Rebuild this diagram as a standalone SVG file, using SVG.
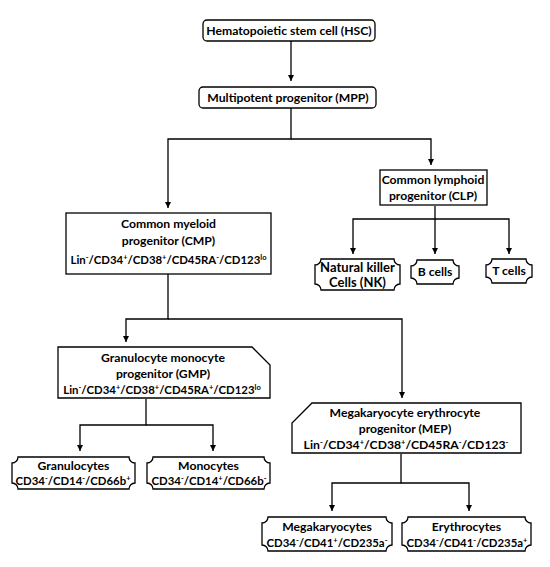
<svg xmlns="http://www.w3.org/2000/svg" width="550" height="567" viewBox="0 0 550 567">
<style>
.box{fill:#fff;stroke:#000;stroke-width:1.3}
.t{font-family:Lato,"Liberation Sans",sans-serif;font-weight:bold;font-size:12.2px;fill:#000;text-anchor:middle}
.m{font-size:11.4px}
.s{font-size:7.5px}
.c{fill:none;stroke:#000;stroke-width:1.3}
</style>
<defs>
<marker id="ah" markerUnits="userSpaceOnUse" markerWidth="7" markerHeight="7" refX="6" refY="3" orient="auto">
<path d="M0,0 L6,3 L0,6 z" fill="#000"/>
</marker>
</defs>
<rect width="550" height="567" fill="#fff"/>
<g id="connectors">
<path class="c" d="M291,41 V81" marker-end="url(#ah)"/>
<path class="c" d="M291,108 V139 H168 V208" marker-end="url(#ah)"/>
<path class="c" d="M291,139 H431 V165" marker-end="url(#ah)"/>
<path class="c" d="M435,206 V219 H353 V254" marker-end="url(#ah)"/>
<path class="c" d="M435,219 V254" marker-end="url(#ah)"/>
<path class="c" d="M435,219 H509 V254" marker-end="url(#ah)"/>
<path class="c" d="M168,274 V319 H126 V342" marker-end="url(#ah)"/>
<path class="c" d="M168,319 H402 V398" marker-end="url(#ah)"/>
<path class="c" d="M146,399 V425 H80 V451" marker-end="url(#ah)"/>
<path class="c" d="M146,425 H213 V451" marker-end="url(#ah)"/>
<path class="c" d="M401,454 V483 H332 V511" marker-end="url(#ah)"/>
<path class="c" d="M401,483 H469 V511" marker-end="url(#ah)"/>
</g>
<g id="hsc">
<rect class="box" x="203" y="20" width="172" height="21" rx="4"/>
<text class="t" x="289" y="35">Hematopoietic stem cell (HSC)</text>
</g>
<g id="mpp">
<rect class="box" x="199" y="87" width="177" height="21" rx="4"/>
<text class="t" x="288" y="102">Multipotent progenitor (MPP)</text>
</g>
<g id="clp">
<rect class="box" x="380" y="170" width="107" height="35"/>
<text class="t" x="433" y="184">Common lymphoid</text>
<text class="t" x="433" y="200">progenitor (CLP)</text>
</g>
<g id="nk">
<path class="box" d="M321,259 H394 A6,6 0 0 0 400,265 V284 A6,6 0 0 0 394,290 H321 A6,6 0 0 0 315,284 V265 A6,6 0 0 0 321,259 Z"/>
<text class="t" x="357.5" y="272" style="font-size:13px">Natural killer</text>
<text class="t" x="357.5" y="287" style="font-size:13px">Cells (NK)</text>
</g>
<g id="bcells">
<path class="box" d="M417,260 H453 A6,6 0 0 0 459,266 V278 A6,6 0 0 0 453,284 H417 A6,6 0 0 0 411,278 V266 A6,6 0 0 0 417,260 Z"/>
<text class="t" x="435" y="276">B cells</text>
</g>
<g id="tcells">
<path class="box" d="M492,259 H526 A6,6 0 0 0 532,265 V277 A6,6 0 0 0 526,283 H492 A6,6 0 0 0 486,277 V265 A6,6 0 0 0 492,259 Z"/>
<text class="t" x="509" y="275">T cells</text>
</g>
<g id="cmp">
<rect class="box" x="66" y="213" width="205" height="61"/>
<text class="t" x="168.5" y="228">Common myeloid</text>
<text class="t" x="168.5" y="245">progenitor (CMP)</text>
<text class="t m" x="168.5" y="264">Lin<tspan class="s" dy="-4">-</tspan><tspan dy="4">/CD34</tspan><tspan class="s" dy="-4">+</tspan><tspan dy="4">/CD38</tspan><tspan class="s" dy="-4">+</tspan><tspan dy="4">/CD45RA</tspan><tspan class="s" dy="-4">-</tspan><tspan dy="4">/CD123</tspan><tspan class="s" dy="-4">lo</tspan></text>
</g>
<g id="gmp">
<path class="box" d="M58,347 H252 L270,365 V398 H58 Z"/>
<text class="t" x="163" y="362">Granulocyte monocyte</text>
<text class="t" x="163" y="378">progenitor (GMP)</text>
<text class="t m" x="162" y="394">Lin<tspan class="s" dy="-4">-</tspan><tspan dy="4">/CD34</tspan><tspan class="s" dy="-4">+</tspan><tspan dy="4">/CD38</tspan><tspan class="s" dy="-4">+</tspan><tspan dy="4">/CD45RA</tspan><tspan class="s" dy="-4">+</tspan><tspan dy="4">/CD123</tspan><tspan class="s" dy="-4">lo</tspan></text>
</g>
<g id="granulocytes">
<path class="box" d="M18,457 H129 A6,6 0 0 0 135,463 V483 A6,6 0 0 0 129,489 H18 A6,6 0 0 0 12,483 V463 A6,6 0 0 0 18,457 Z"/>
<text class="t" x="73.5" y="470">Granulocytes</text>
<text class="t m" x="73" y="485">CD34<tspan class="s" dy="-4">-</tspan><tspan dy="4">/CD14</tspan><tspan class="s" dy="-4">-</tspan><tspan dy="4">/CD66b</tspan><tspan class="s" dy="-4">+</tspan></text>
</g>
<g id="monocytes">
<path class="box" d="M153,457 H264 A6,6 0 0 0 270,463 V483 A6,6 0 0 0 264,489 H153 A6,6 0 0 0 147,483 V463 A6,6 0 0 0 153,457 Z"/>
<text class="t" x="208.5" y="470">Monocytes</text>
<text class="t m" x="209" y="485">CD34<tspan class="s" dy="-4">-</tspan><tspan dy="4">/CD14</tspan><tspan class="s" dy="-4">+</tspan><tspan dy="4">/CD66b</tspan><tspan class="s" dy="-4">-</tspan></text>
</g>
<g id="mep">
<path class="box" d="M312,403 H521 V453 H292 V423 Z"/>
<text class="t" x="405" y="417">Megakaryocyte erythrocyte</text>
<text class="t" x="405" y="433">progenitor (MEP)</text>
<text class="t" x="406" y="449">Lin<tspan class="s" dy="-4">-</tspan><tspan dy="4">/CD34</tspan><tspan class="s" dy="-4">+</tspan><tspan dy="4">/CD38</tspan><tspan class="s" dy="-4">+</tspan><tspan dy="4">/CD45RA</tspan><tspan class="s" dy="-4">-</tspan><tspan dy="4">/CD123</tspan><tspan class="s" dy="-4">-</tspan></text>
</g>
<g id="megakaryocytes">
<path class="box" d="M268,517 H386 A6,6 0 0 0 392,523 V545 A6,6 0 0 0 386,551 H268 A6,6 0 0 0 262,545 V523 A6,6 0 0 0 268,517 Z"/>
<text class="t" x="327" y="531">Megakaryocytes</text>
<text class="t m" x="327" y="547">CD34<tspan class="s" dy="-4">-</tspan><tspan dy="4">/CD41</tspan><tspan class="s" dy="-4">+</tspan><tspan dy="4">/CD235a</tspan><tspan class="s" dy="-4">-</tspan></text>
</g>
<g id="erythrocytes">
<path class="box" d="M408,517 H525 A6,6 0 0 0 531,523 V545 A6,6 0 0 0 525,551 H408 A6,6 0 0 0 402,545 V523 A6,6 0 0 0 408,517 Z"/>
<text class="t" x="466.5" y="531">Erythrocytes</text>
<text class="t m" x="467" y="547">CD34<tspan class="s" dy="-4">-</tspan><tspan dy="4">/CD41</tspan><tspan class="s" dy="-4">-</tspan><tspan dy="4">/CD235a</tspan><tspan class="s" dy="-4">+</tspan></text>
</g>
</svg>
